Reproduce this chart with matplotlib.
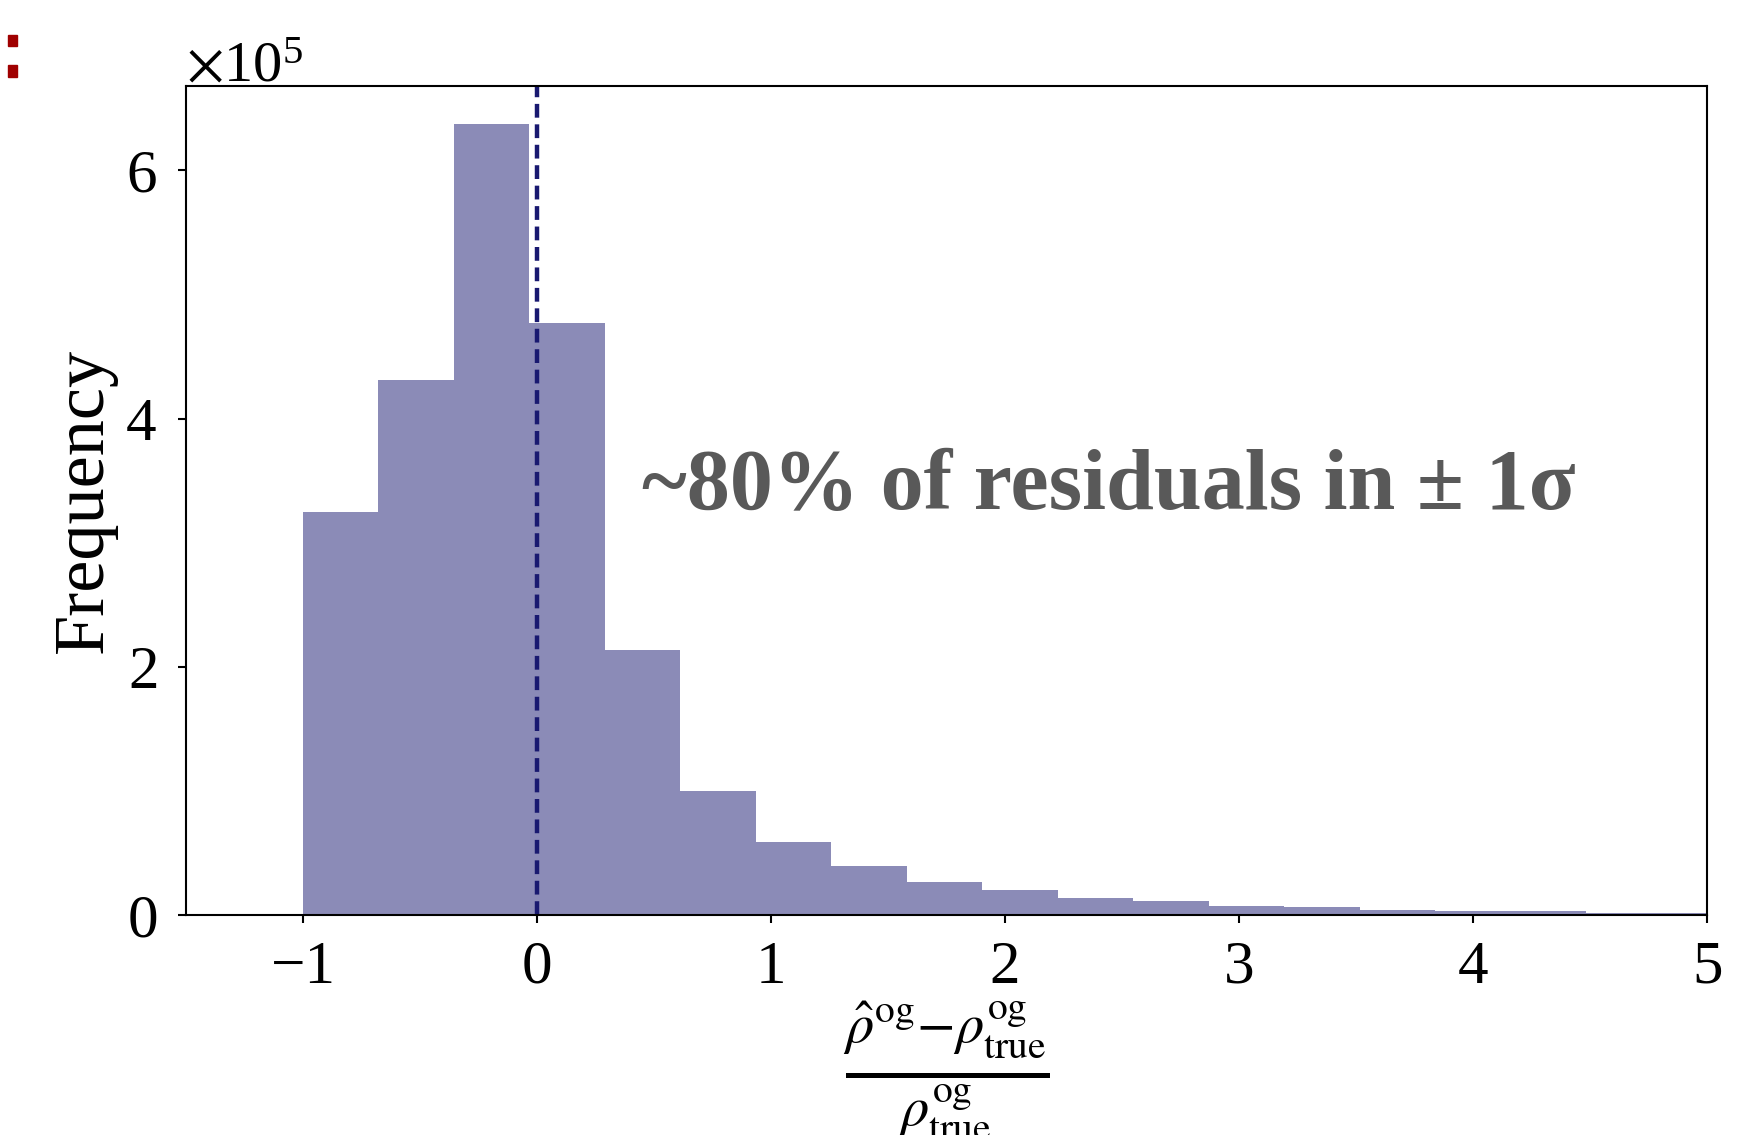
import numpy as np
import matplotlib
matplotlib.use("Agg")
import matplotlib.pyplot as plt
from matplotlib.patches import Rectangle

plt.rcParams['font.family'] = ['Liberation Serif', 'DejaVu Serif']
plt.rcParams['mathtext.fontset'] = 'stix'

# histogram of relative residuals (counts)
bin_edges = [-1.0, -0.6775, -0.355, -0.0325, 0.29, 0.6125, 0.935, 1.2575, 1.58,
             1.9025, 2.225, 2.5475, 2.87, 3.1925, 3.515, 3.8375, 4.16, 4.4825,
             4.805, 5.1275, 5.45]
counts = [3.25e5, 4.31e5, 6.37e5, 4.77e5, 2.14e5, 1.00e5, 0.59e5, 0.395e5, 0.27e5,
          0.205e5, 0.139e5, 0.111e5, 0.077e5, 0.063e5, 0.046e5, 0.034e5, 0.034e5,
          0.018e5, 0.015e5, 0.012e5]
xticks = [-1, 0, 1, 2, 3, 4, 5]
yticks = [0, 2e5, 4e5, 6e5]

centers = [(a + b) / 2 for a, b in zip(bin_edges[:-1], bin_edges[1:])]

fig = plt.figure(figsize=(17.46, 11.35), dpi=100)
ax = fig.add_axes([0.1065, 0.1936, 0.8712, 0.7309])

ax.hist(centers, bins=bin_edges, weights=counts, color='midnightblue', alpha=0.5)
ax.axvline(0, color='midnightblue', ls='--', lw=3.2, dashes=(3.1, 1.5))

ax.set_xlim(-1.5, 5)
ax.set_ylim(0, 6.68e5)
ax.set_xticks(xticks)
ax.set_yticks(yticks)

fmt = matplotlib.ticker.ScalarFormatter(useMathText=True)
fmt.set_powerlimits((0, 0))
ax.yaxis.set_major_formatter(fmt)
ax.yaxis.get_offset_text().set_fontsize(42)

ax.tick_params(labelsize=44, width=1.5, length=6, direction='out')
ax.tick_params(axis='x', pad=12)
ax.tick_params(axis='y', pad=15)
for s in ax.spines.values():
    s.set_linewidth(1.5)

ax.set_ylabel('Frequency', fontsize=52, labelpad=6)
ax.set_xlabel(r'$\frac{\hat{\rho}^{\rm og}{-}\rho_{\rm true}^{\rm og}}{\rho_{\rm true}^{\rm og}}$',
              fontsize=58, labelpad=3)

ax.text(0.45, 3.27e5, '~80% of residuals in \u00b1 1\u03c3',
        fontsize=62, fontweight='bold', color='#595959', va='baseline', ha='left')

# red slide markers cut off at the left edge
fig.patches.append(Rectangle((8 / 1746, 1 - 46 / 1135), 9 / 1746, 11 / 1135,
                             transform=fig.transFigure, color='#a00000'))
fig.patches.append(Rectangle((8 / 1746, 1 - 77 / 1135), 9 / 1746, 12 / 1135,
                             transform=fig.transFigure, color='#a00000'))

fig.savefig('out.png', dpi=100)
